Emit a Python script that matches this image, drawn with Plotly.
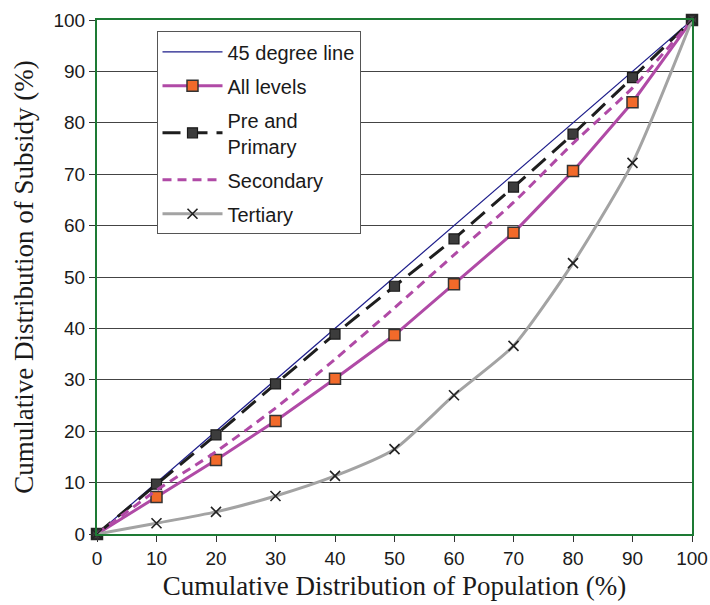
import plotly.graph_objects as go

# Cumulative share of population (x) and of subsidy (y), in percent
population = [0, 10, 20, 30, 40, 50, 60, 70, 80, 90, 100]
equality = [0, 10, 20, 30, 40, 50, 60, 70, 80, 90, 100]
all_levels = [0, 7.2, 14.4, 22.0, 30.2, 38.7, 48.6, 58.6, 70.6, 84.0, 100]
pre_primary = [0, 9.7, 19.3, 29.2, 38.9, 48.2, 57.4, 67.5, 77.8, 88.8, 100]
secondary = [0, 8.5, 16.0, 24.5, 34.0, 44.0, 54.3, 64.5, 76.0, 86.8, 100]
tertiary = [0, 2.1, 4.3, 7.4, 11.3, 16.5, 27.0, 36.6, 52.7, 72.2, 100]
ticks = [0, 10, 20, 30, 40, 50, 60, 70, 80, 90, 100]

fig = go.Figure()

fig.add_trace(go.Scatter(
    x=population, y=equality, name="45 degree line", mode="lines",
    line=dict(color="#1c1c8a", width=1.2), legendgroup="a", cliponaxis=False))

fig.add_trace(go.Scatter(
    x=population, y=all_levels, name="All levels", mode="lines+markers",
    line=dict(color="#b04aa6", width=3),
    marker=dict(symbol="square", size=11, color="#f26a2a",
                line=dict(color="#333333", width=1.5)),
    legendgroup="b", cliponaxis=False))

fig.add_trace(go.Scatter(
    x=population, y=pre_primary, name="Pre and<br>Primary", mode="lines+markers",
    line=dict(color="#1e1e1e", width=3, dash="18px,9px"),
    marker=dict(symbol="square", size=10, color="#3c3c3c",
                line=dict(color="#1a1a1a", width=1.2)),
    legendgroup="c", cliponaxis=False))

fig.add_trace(go.Scatter(
    x=population, y=secondary, name="Secondary", mode="lines",
    line=dict(color="#b04aa6", width=3, dash="9px,6px", shape="spline", smoothing=0.6),
    legendgroup="d", cliponaxis=False))

fig.add_trace(go.Scatter(
    x=population, y=tertiary, name="Tertiary", mode="lines+markers",
    line=dict(color="#a3a3a3", width=3, shape="spline", smoothing=0.6),
    marker=dict(symbol="x-thin", size=10, color="#222222",
                line=dict(color="#222222", width=1.6)),
    legendgroup="e", cliponaxis=False))

title_font = dict(family="Liberation Serif, Times New Roman, serif", size=27, color="#1a1a1a")

fig.update_layout(
    width=710, height=605,
    margin=dict(l=97, r=18, t=20, b=71),
    paper_bgcolor="white", plot_bgcolor="white",
    font=dict(family="Liberation Sans, Arial, sans-serif", size=19, color="#1a1a1a"),
    showlegend=True,
    legend=dict(
        x=0.1, y=0.978, xanchor="left", yanchor="top",
        bgcolor="white", bordercolor="#555555", borderwidth=1,
        font=dict(size=20, color="#1a1a1a"),
        tracegroupgap=5, itemwidth=60,
    ),
)

fig.update_xaxes(
    range=[0, 100], tickvals=ticks, showgrid=False, zeroline=False, automargin=False,
    showline=True, linecolor="#1d7a34", linewidth=2, mirror=True,
    ticks="outside", ticklen=6, tickcolor="#333333",
    title=dict(text="Cumulative Distribution of Population (%)", font=title_font, standoff=8),
)
fig.update_yaxes(
    range=[0, 100], tickvals=ticks, showgrid=True, gridcolor="#444444", gridwidth=1,
    zeroline=False, automargin=False,
    showline=True, linecolor="#1d7a34", linewidth=2, mirror=True,
    ticks="outside", ticklen=6, tickcolor="#333333",
    title=dict(text="Cumulative Distribution of Subsidy (%)", font=title_font, standoff=12),
)

fig.write_html("out.html")
